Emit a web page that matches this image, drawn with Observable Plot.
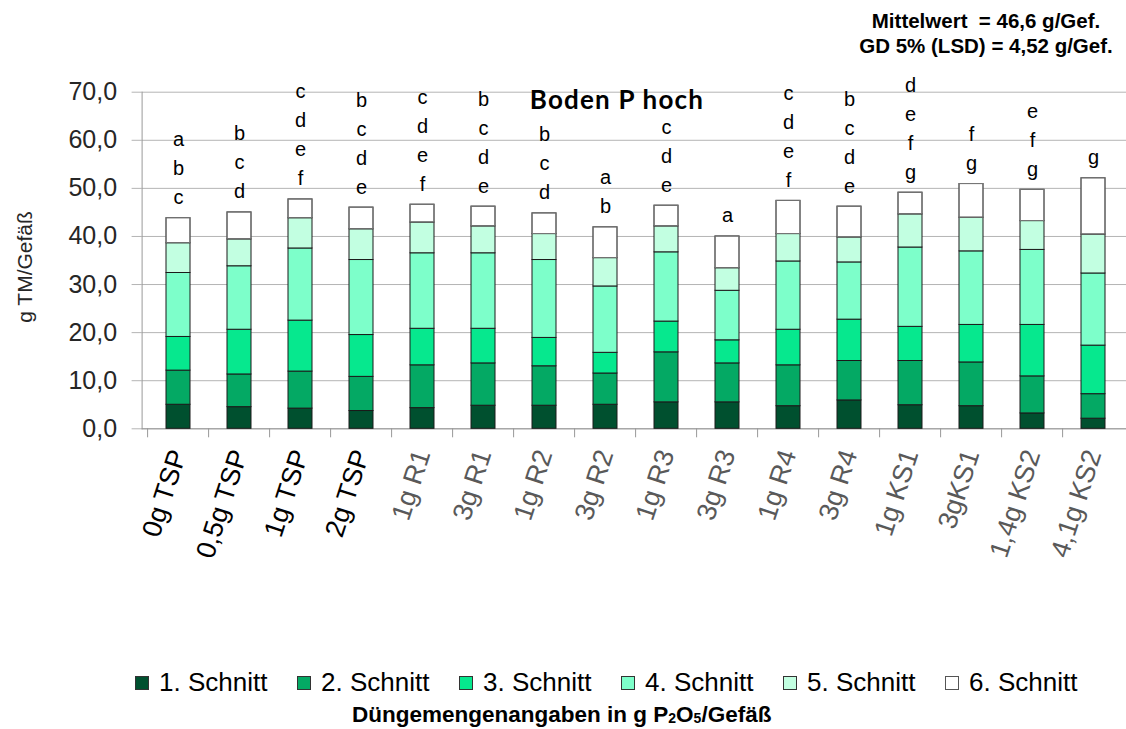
<!DOCTYPE html>
<html>
<head>
<meta charset="utf-8">
<script src="https://cdn.jsdelivr.net/npm/d3@7"></script>
<script src="https://cdn.jsdelivr.net/npm/@observablehq/plot@0.6"></script>
<style>
  body { margin: 0; background: #fff; font-family: "Liberation Sans", Arial, sans-serif; }
  #wrap { position: relative; width: 1126px; height: 729px; overflow: hidden; background: #fff; }
  #chart { position: absolute; left: 0; top: 0; }
  #stats { position: absolute; top: 8px; left: 786px; width: 400px; text-align: center; font-weight: bold; font-size: 20.5px; line-height: 25px; color: #000; white-space: pre; }
  #title { position: absolute; top: 86px; left: 467px; width: 300px; height: 26px; text-align: center; font-family: Lato, "Open Sans", sans-serif; font-weight: bold; font-size: 26px; line-height: 26px; letter-spacing: 1.2px; color: #000; }
  #ytitle { position: absolute; left: 25px; top: 267px; transform: translate(-50%, -50%) rotate(-90deg); font-size: 21px; color: #262626; white-space: nowrap; }
  .leg { position: absolute; top: 667px; display: flex; align-items: center; font-size: 26px; color: #000; white-space: nowrap; }
  .sw { width: 12px; height: 12px; border: 1px solid #333; margin-right: 10px; }
  #xtitle { position: absolute; top: 702px; left: 352px; font-weight: bold; font-size: 22.5px; color: #000; white-space: nowrap; }
  #xtitle sub { font-size: 14px; vertical-align: 0; position: relative; top: 1px; }
</style>
</head>
<body>
<div id="wrap">
  <div id="chart"></div>
  <div id="stats"></div>
  <div id="title"></div>
  <div id="ytitle"></div>
  <div id="legend"></div>
  <div id="xtitle"></div>
</div>
<script>
// ---- data ----
const categories = ["0g TSP","0,5g TSP","1g TSP","2g TSP","1g R1","3g R1","1g R2","3g R2","1g R3","3g R3","1g R4","3g R4","1g KS1","3gKS1","1,4g KS2","4,1g KS2"];
const series = ["1. Schnitt","2. Schnitt","3. Schnitt","4. Schnitt","5. Schnitt","6. Schnitt"];
const schnitt1 = [5.0,4.5,4.2,3.7,4.3,4.8,4.8,5.0,5.5,5.5,4.7,5.9,4.9,4.7,3.2,2.1];
const schnitt2 = [7.1,6.8,7.7,7.1,8.9,8.8,8.2,6.5,10.4,8.1,8.5,8.2,9.2,9.1,7.7,5.1];
const schnitt3 = [7.0,9.3,10.6,8.7,7.6,7.2,5.9,4.3,6.4,4.8,7.4,8.6,7.1,7.8,10.7,10.1];
const schnitt4 = [13.3,13.2,15.0,15.6,15.7,15.7,16.2,13.8,14.4,10.3,14.2,11.9,16.5,15.3,15.6,15.0];
const schnitt5 = [6.2,5.6,6.3,6.4,6.4,5.6,5.4,5.9,5.4,4.7,5.7,5.2,6.9,7.0,6.0,8.1];
const schnitt6 = [5.2,5.6,3.9,4.5,3.7,4.1,4.3,6.4,4.3,6.6,6.9,6.4,4.5,7.0,6.5,11.7];
const letters = ["a\nb\nc","b\nc\nd","c\nd\ne\nf","b\nc\nd\ne","c\nd\ne\nf","b\nc\nd\ne","b\nc\nd","a\nb","c\nd\ne","a","c\nd\ne\nf","b\nc\nd\ne","d\ne\nf\ng","f\ng","e\nf\ng","g"];
const colors = ["#00502f","#04a964","#06e88e","#7dffca","#c2ffe1","#ffffff"];
const yTicks = [0,10,20,30,40,50,60,70];
const statLines = ["Mittelwert  = 46,6 g/Gef.","GD 5% (LSD) = 4,52 g/Gef."];
const titleText = "Boden P hoch";
const yTitle = "g TM/Gefäß";
const xTitleHtml = "Düngemengenangaben in g P<sub>2</sub>O<sub>5</sub>/Gefäß";

// ---- build ----
const cuts = [schnitt1, schnitt2, schnitt3, schnitt4, schnitt5, schnitt6];
const data = categories.flatMap((c, i) => series.map((s, j) => ({cat: c, series: s, value: cuts[j][i]})));
const totals = categories.map((c, i) => ({cat: c, total: d3.sum(cuts, a => a[i]), label: letters[i]}));
const fmt = d => d.toFixed(1).replace(".", ",");

const chart = Plot.plot({
  width: 1126,
  height: 640,
  marginTop: 91.7,
  marginBottom: 211.7,
  marginLeft: 141.6,
  marginRight: 0,
  x: {domain: categories, range: [141.6, 1130.4], paddingInner: 0.6, paddingOuter: 0.3, label: null},
  y: {domain: [0, 70], label: null},
  color: {domain: series, range: colors},
  style: {fontFamily: "Liberation Sans, Arial, sans-serif", background: "white", overflow: "hidden"},
  marks: [
    Plot.gridY(yTicks, {stroke: "#b4b4b4", strokeOpacity: 1}),
    Plot.axisY(yTicks, {tickSize: 10, stroke: "#b4b4b4", tickFormat: fmt, fontSize: 25, fill: "#262626", tickPadding: 15, label: null}),
    Plot.frame({anchor: "left", stroke: "#999"}),
    Plot.ruleY([0], {stroke: "#999"}),
    Plot.axisX({tickSize: 9, tickFormat: () => "", dx: -30.9, stroke: "#999", label: null}),
    Plot.axisX(categories.slice(0, 4), {tickSize: 0, tickRotate: -72, tickPadding: 22, fontSize: 27, fill: "#000", label: null}),
    Plot.axisX(categories.slice(4), {tickSize: 0, tickRotate: -72, tickPadding: 22, fontSize: 27, fill: "#595959", label: null}),
    Plot.barY(data, {x: "cat", y: "value", fill: "series", stroke: "#1a1a1a", strokeWidth: 1}),
    Plot.barY(data, {x: "cat", y: "value", fill: "none", stroke: "#7a7a7a", strokeWidth: 1, strokeOpacity: d => d.series === series[5] ? 1 : 0}),
    Plot.text(totals, {x: "cat", y: "total", text: "label", lineAnchor: "bottom", lineHeight: 1.45, dy: -14, fontSize: 20, fill: "#000"})
  ]
});
document.getElementById("chart").appendChild(chart);

document.getElementById("stats").textContent = statLines.join("\n");
document.getElementById("title").textContent = titleText;
document.getElementById("ytitle").textContent = yTitle;
document.getElementById("xtitle").innerHTML = xTitleHtml;

const legend = document.getElementById("legend");
series.forEach((s, i) => {
  const item = document.createElement("div");
  item.className = "leg";
  item.style.left = (135 + i * 162) + "px";
  const sw = document.createElement("div");
  sw.className = "sw";
  sw.style.background = colors[i];
  if (i === 5) sw.style.borderColor = "#555";
  const t = document.createElement("span");
  t.textContent = s;
  item.appendChild(sw);
  item.appendChild(t);
  legend.appendChild(item);
});
</script>
</body>
</html>
